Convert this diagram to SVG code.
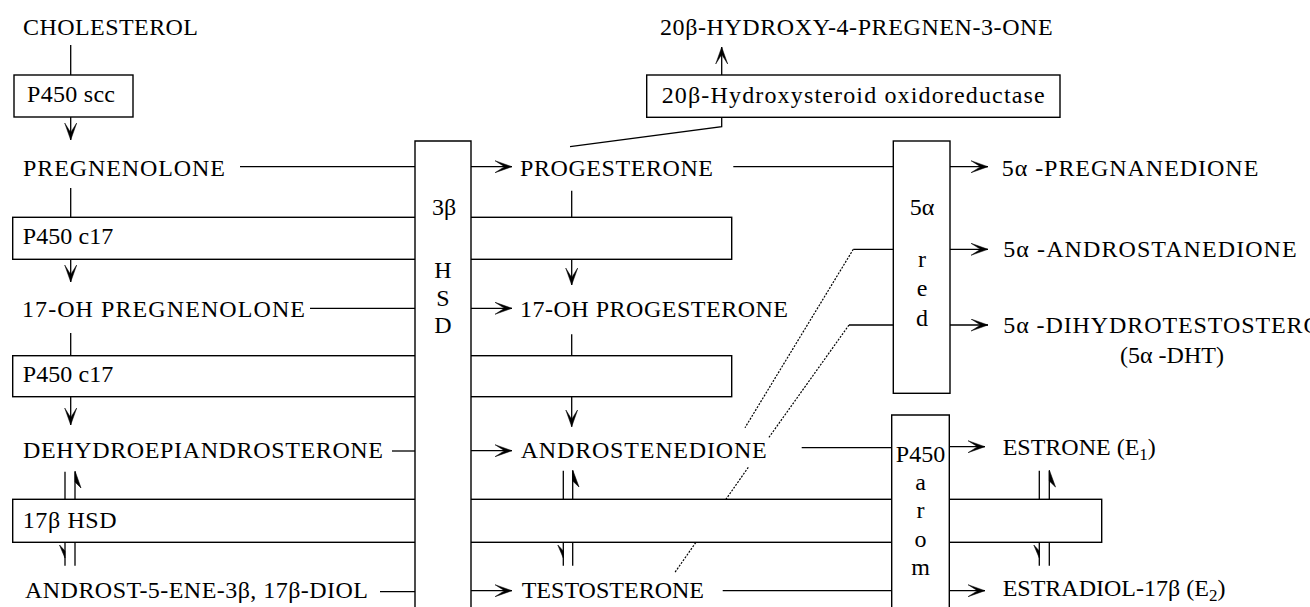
<svg xmlns="http://www.w3.org/2000/svg" width="1310" height="607" viewBox="0 0 1310 607">
<defs>
<style>
.ln{stroke:#000;stroke-width:1.3;fill:none}
.ar{stroke:#000;stroke-width:1.3;fill:none;marker-end:url(#arr)}
.dt{stroke:#000;stroke-width:1.2;stroke-dasharray:2 1.4;fill:none}
.bx{stroke:#000;stroke-width:1.4;fill:#fff}
.hp{fill:#000;stroke:#000;stroke-width:0.6}
text{font-family:"Liberation Serif","Times New Roman",serif;font-size:24px;fill:#000}
.c{text-anchor:middle}
</style>
<marker id="arr" markerUnits="userSpaceOnUse" markerWidth="18" markerHeight="14" refX="17" refY="6.5" orient="auto">
<path d="M17,6.5 L0,0.5 L9.5,6.5 L0,12.5 Z" fill="#000" stroke="#000" stroke-width="0.5"/>
</marker>
</defs>
<rect width="1310" height="607" fill="#fff"/>

<g id="connectors">
<line class="ln" x1="70.7" y1="45" x2="70.7" y2="75"/>
<line class="ar" x1="70.7" y1="117" x2="70.7" y2="140"/>
<line class="ln" x1="240" y1="166.7" x2="415" y2="166.7"/>
<line class="ln" x1="70.7" y1="188" x2="70.7" y2="217.3"/>
<line class="ar" x1="70.7" y1="259.3" x2="70.7" y2="282"/>
<line class="ln" x1="310" y1="308.3" x2="415" y2="308.3"/>
<line class="ln" x1="70.7" y1="333" x2="70.7" y2="355.7"/>
<line class="ar" x1="70.7" y1="396.7" x2="70.7" y2="425"/>
<line class="ln" x1="392" y1="451" x2="415" y2="451"/>
<line class="ln" x1="380" y1="591.7" x2="415" y2="591.7"/>
<line class="ln" x1="65" y1="471.7" x2="65" y2="499.3"/>
<line class="ln" x1="75" y1="471.7" x2="75" y2="499.3"/>
<path class="hp" d="M75,471 L81,488 L75,482 Z"/>
<line class="ln" x1="65" y1="542.3" x2="65" y2="565.7"/>
<line class="ln" x1="75" y1="542.3" x2="75" y2="565.7"/>
<path class="hp" d="M65,558 L59.5,545 L65,551 Z"/>
<line class="ar" x1="471" y1="166.7" x2="512" y2="166.7"/>
<line class="ar" x1="471" y1="308.3" x2="512" y2="308.3"/>
<line class="ar" x1="471" y1="450.7" x2="512" y2="450.7"/>
<line class="ar" x1="471" y1="590.7" x2="512" y2="590.7"/>
<line class="ln" x1="571.7" y1="190.7" x2="571.7" y2="217.3"/>
<line class="ar" x1="571.7" y1="259.3" x2="571.7" y2="285"/>
<line class="ln" x1="571.7" y1="334.3" x2="571.7" y2="355.7"/>
<line class="ar" x1="571.7" y1="396.7" x2="571.7" y2="426.7"/>
<line class="ln" x1="563.3" y1="470.7" x2="563.3" y2="499.3"/>
<line class="ln" x1="572.7" y1="470.7" x2="572.7" y2="499.3"/>
<path class="hp" d="M572.7,470 L579,487 L572.7,481 Z"/>
<line class="ln" x1="563.3" y1="542.3" x2="563.3" y2="565.7"/>
<line class="ln" x1="572.7" y1="542.3" x2="572.7" y2="565.7"/>
<path class="hp" d="M563.3,558 L557.8,545 L563.3,551 Z"/>
<polyline class="ln" points="570,146.7 721.7,126.7 721.7,117.3"/>
<line class="ar" x1="721.7" y1="75" x2="721.7" y2="47"/>
<line class="ln" x1="733.3" y1="166.7" x2="893.3" y2="166.7"/>
<line class="ln" x1="801.7" y1="447.7" x2="891.7" y2="447.7"/>
<line class="ln" x1="722.7" y1="590.7" x2="891.7" y2="590.7"/>
<line class="ln" x1="853.3" y1="249.3" x2="893.3" y2="249.3"/>
<line class="ln" x1="849" y1="325" x2="893.3" y2="325"/>
<line class="dt" x1="853.3" y1="249.3" x2="745" y2="427.7"/>
<line class="dt" x1="849" y1="325" x2="768.3" y2="438.3"/>
<line class="dt" x1="748.3" y1="467.3" x2="675" y2="572.3"/>
<line class="ar" x1="950" y1="166.7" x2="988" y2="166.7"/>
<line class="ar" x1="950" y1="249.3" x2="988" y2="249.3"/>
<line class="ar" x1="950" y1="325" x2="988" y2="325"/>
<line class="ar" x1="949.3" y1="446.7" x2="985" y2="446.7"/>
<line class="ar" x1="949.3" y1="590.7" x2="985" y2="590.7"/>
<line class="ln" x1="1039.3" y1="470.7" x2="1039.3" y2="499.3"/>
<line class="ln" x1="1049.3" y1="470.7" x2="1049.3" y2="499.3"/>
<path class="hp" d="M1049.3,470 L1055.5,487 L1049.3,481 Z"/>
<line class="ln" x1="1039.3" y1="542.3" x2="1039.3" y2="565.7"/>
<line class="ln" x1="1049.3" y1="542.3" x2="1049.3" y2="565.7"/>
<path class="hp" d="M1039.3,558 L1033.8,545 L1039.3,551 Z"/>
</g>

<g id="cholesterol"><text x="23" y="35" textLength="175" lengthAdjust="spacing">CHOLESTEROL</text></g>
<g id="pregnenolone"><text x="23" y="176" textLength="202" lengthAdjust="spacing">PREGNENOLONE</text></g>
<g id="oh-pregnenolone"><text x="22" y="316.7" textLength="283" lengthAdjust="spacing">17-OH PREGNENOLONE</text></g>
<g id="dhea"><text x="23" y="458" textLength="360" lengthAdjust="spacing">DEHYDROEPIANDROSTERONE</text></g>
<g id="androstenediol"><text x="25" y="598" textLength="343" lengthAdjust="spacing">ANDROST-5-ENE-3β, 17β-DIOL</text></g>
<g id="hydroxypregnenone"><text x="660" y="35" textLength="392.7" lengthAdjust="spacing">20β-HYDROXY-4-PREGNEN-3-ONE</text></g>
<g id="progesterone"><text x="520" y="176" textLength="193" lengthAdjust="spacing">PROGESTERONE</text></g>
<g id="oh-progesterone"><text x="520" y="316.7" textLength="268" lengthAdjust="spacing">17-OH PROGESTERONE</text></g>
<g id="androstenedione"><text x="520.7" y="458.3" textLength="246" lengthAdjust="spacing">ANDROSTENEDIONE</text></g>
<g id="testosterone"><text x="521.7" y="598.3" textLength="182.3" lengthAdjust="spacing">TESTOSTERONE</text></g>
<g id="pregnanedione"><text x="1001.7" y="176" textLength="256.6" lengthAdjust="spacing">5α -PREGNANEDIONE</text></g>
<g id="androstanedione"><text x="1003.3" y="257" textLength="293.4" lengthAdjust="spacing">5α -ANDROSTANEDIONE</text></g>
<g id="dht"><text x="1003.3" y="333" letter-spacing="0.9">5α -DIHYDROTESTOSTERONE</text><text x="1120" y="363">(5α -DHT)</text></g>
<g id="estrone"><text x="1002.7" y="455">ESTRONE (E<tspan dy="5" font-size="17">1</tspan><tspan dy="-5">)</tspan></text></g>
<g id="estradiol"><text x="1002.7" y="596">ESTRADIOL-17β (E<tspan dy="5" font-size="17">2</tspan><tspan dy="-5">)</tspan></text></g>

<g id="p450scc"><rect class="bx" x="14" y="75" width="119" height="42"/><text x="27" y="102" textLength="88" lengthAdjust="spacing">P450 scc</text></g>
<g id="p450c17-a"><rect class="bx" x="12.7" y="217.3" width="719" height="42"/><text x="22.7" y="244" textLength="90.6" lengthAdjust="spacing">P450 c17</text></g>
<g id="p450c17-b"><rect class="bx" x="12.7" y="355.7" width="719" height="41"/><text x="22.7" y="381.7" textLength="90.6" lengthAdjust="spacing">P450 c17</text></g>
<g id="hsd17b"><rect class="bx" x="12.7" y="499.3" width="1089" height="43"/><text x="22.7" y="527.7" textLength="94" lengthAdjust="spacing">17β HSD</text></g>
<g id="hsd20b"><rect class="bx" x="646.7" y="75" width="413.3" height="42.3"/><text x="661.7" y="103" textLength="383" lengthAdjust="spacing">20β-Hydroxysteroid oxidoreductase</text></g>

<g id="hsd3b"><path class="bx" d="M415,614 V141 H471 V614"/>
<text class="c" x="444" y="215">3β</text>
<text class="c" x="443" y="278">H</text>
<text class="c" x="443" y="305.5">S</text>
<text class="c" x="443" y="333">D</text></g>
<g id="red5a"><rect class="bx" x="893.3" y="141" width="56.7" height="252.3"/>
<text class="c" x="922" y="215">5α</text>
<text class="c" x="922" y="267">r</text>
<text class="c" x="922" y="296">e</text>
<text class="c" x="922" y="326">d</text></g>
<g id="arom"><path class="bx" d="M891.7,614 V415 H949.3 V614"/>
<text class="c" x="920.5" y="462">P450</text>
<text class="c" x="920.5" y="490">a</text>
<text class="c" x="920.5" y="518.3">r</text>
<text class="c" x="920.5" y="546.7">o</text>
<text class="c" x="920.5" y="575">m</text></g>
</svg>
